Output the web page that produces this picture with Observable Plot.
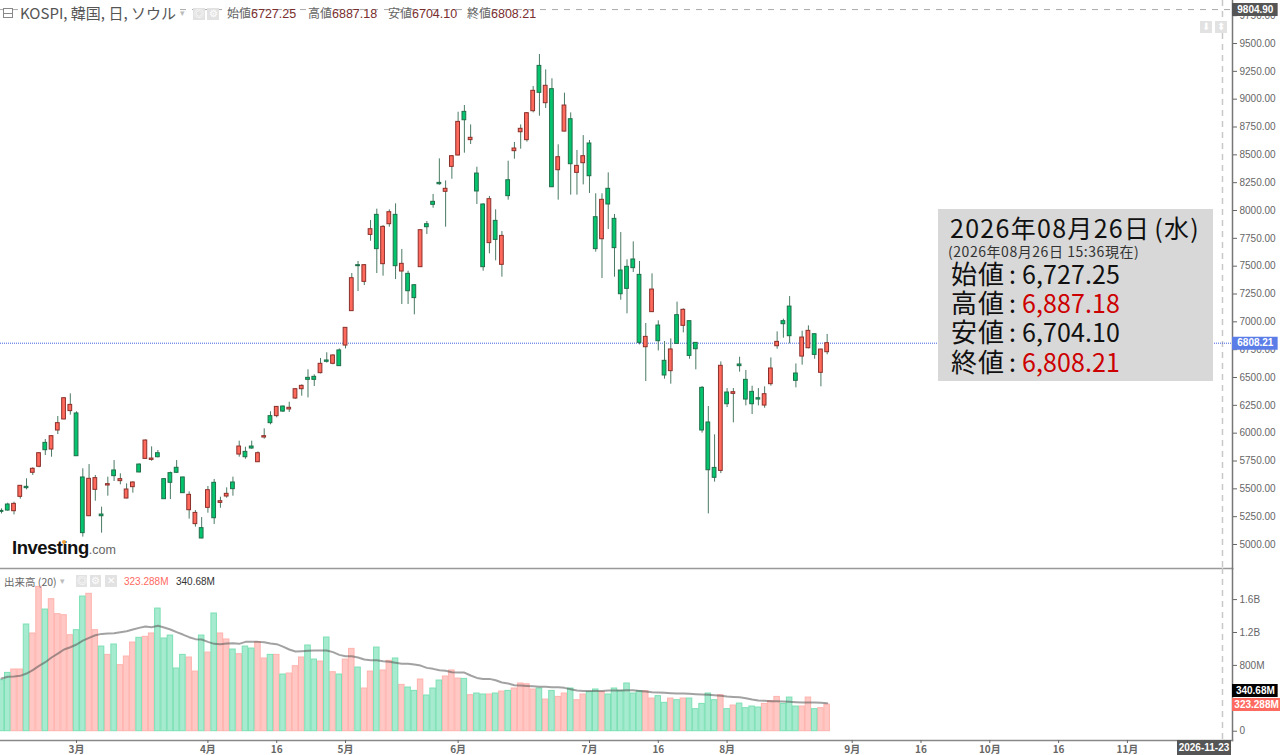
<!DOCTYPE html>
<html lang="ja">
<head>
<meta charset="utf-8">
<title>KOSPI</title>
<script src="https://cdn.jsdelivr.net/npm/d3@7"></script>
<script src="https://cdn.jsdelivr.net/npm/@observablehq/plot@0.6"></script>
<style>
html,body{margin:0;padding:0;background:#fff;overflow:hidden}
#page{position:relative;width:1280px;height:755px;overflow:hidden;font-family:"Liberation Sans",sans-serif}
#page svg{position:absolute;left:0;display:block;background:transparent}
.ov{position:absolute;white-space:nowrap}
.ic{position:absolute;background:#e2e2e2;color:#fff;text-align:center;font-size:10px;line-height:12px}
.hd{position:absolute;white-space:nowrap;font:12px "Noto Sans CJK JP",sans-serif;color:#666;top:5px;line-height:16px}
.hd b{font:12.5px "Liberation Sans",sans-serif;color:#7a2e2e}
#info{position:absolute;left:938px;top:209px;width:275px;height:172px;background:#d8d8d8;font-family:"Noto Sans CJK JP",sans-serif;color:#111}
#info div{position:absolute;white-space:nowrap}
.row{left:13px;font-size:25px;line-height:28px}
.row span{display:inline-block;width:58px;font-size:26px;letter-spacing:1px}
.row i{font-style:normal;letter-spacing:.1px;margin-left:6px}
.r{color:#cc0000}
</style>
</head>
<body>
<div id="page"></div>
<script>
const openVals=[5302,5359,5299,5428,5518,5644,5698,5913,5853,6024,6123,6198,6177,5602,5254,5491,5269,5530,5665,5569,5413,5515,5718,5769,5760,5820,5587,5641,5689,5602,5308,5183,5147,5329,5554,5374,5431,5557,5808,5832,5880,5739,5961,6153,6153,6239,6213,6311,6395,6497,6506,6539,6653,6623,6743,6787,7096,7509,7359,7781,7961,7518,7877,7961,7452,7431,7329,7491,7877,8078,8248,8168,8392,8494,8886,8632,8332,8054,7707,7907,7512,8272,8533,8703,8632,8892,9299,8964,9090,8362,8709,8820,8338,8425,8602,7940,7742,8195,7925,7461,7494,7560,7422,6772,7087,6967,6650,6557,7060,6964,7006,6811,6407,6096,5688,5661,6365,6353,6617,6479,6371,6314,6248,6440,6781,7006,7137,6536,6688,6763,6889,6542,6727.25];
const highVals=[5320,5371,5380,5527,5590,5689,5826,5943,5979,6150,6317,6353,6192,5680,5718,5620,5335,5605,5754,5635,5545,5563,5724,5940,5877,5844,5590,5650,5754,5605,5473,5305,5242,5521,5584,5425,5509,5605,5928,5874,5928,5832,6039,6192,6239,6245,6278,6398,6434,6569,6524,6671,6722,6703,6757,6946,7434,7542,7515,7910,8012,7865,8006,8060,7650,7455,7335,7826,7901,8144,8464,8266,8491,8883,8943,8769,8389,8060,8126,8006,7811,8443,8611,8769,8880,9114,9401,9263,9183,8590,9054,8877,8539,8673,8629,8150,8150,8338,7964,7802,7557,7718,7542,6985,7431,7009,6823,6847,7177,7117,7006,6811,6419,6239,5985,6640,6401,6401,6682,6563,6422,6401,6416,6676,6910,7024,7227,6622,6916,6964,6892,6754,6887.18];
const lowVals=[5275,5299,5266,5407,5491,5620,5689,5799,5784,5988,6120,6162,5793,5066,5251,5389,5102,5434,5566,5536,5410,5461,5644,5766,5748,5778,5404,5404,5638,5458,5228,5156,5051,5281,5180,5326,5416,5434,5784,5766,5856,5736,5946,6075,6138,6186,6186,6305,6332,6317,6419,6533,6629,6614,6599,6757,7093,7272,7326,7724,7434,7410,7850,7380,7156,7156,7063,7488,7784,8021,8227,7850,8281,8491,8515,8593,8054,7455,7611,7548,7401,8093,8461,8551,8614,8877,8847,8916,8206,8093,8706,8138,8138,8230,8153,7626,7389,7829,7401,7194,7072,7443,6793,6464,7084,6739,6485,6440,6796,6901,6664,6569,6000,5275,5560,5637,6230,6093,6548,6245,6167,6245,6224,6422,6754,6853,6802,6407,6611,6757,6664,6416,6704.10];
const closeVals=[5293,5305,5365,5527,5506,5680,5820,5847,5973,6090,6314,6254,5793,5102,5590,5596,5254,5542,5614,5587,5494,5557,5647,5934,5772,5784,5407,5554,5644,5461,5446,5284,5054,5488,5236,5389,5455,5497,5880,5784,5862,5820,5973,6090,6236,6194,6228,6395,6425,6479,6479,6623,6641,6698,6602,6946,7392,7500,7509,7832,7653,7853,7985,7500,7521,7275,7213,7823,7850,8051,8236,8195,8488,8796,8811,8653,8171,7491,8102,7736,7772,8129,8557,8734,8874,9075,9057,9120,8209,8479,8943,8416,8401,8488,8308,7653,8096,8054,7662,7248,7296,7482,6811,6865,7290,6826,6518,6752,6802,7108,6694,6754,6024,5667,5599,6605,6260,6368,6602,6302,6260,6302,6350,6581,6820,6979,6871,6470,6859,6919,6703,6751,6808.21];
const volumeM=[620,709,750,750,1297,1188,1755,1479,1605,1423,1410,1167,1228,1637,1670,1228,1029,928,1054,803,908,1078,1135,1147,1188,1491,1127,1163,762,928,896,725,1163,956,1431,1188,1115,993,936,1029,1005,1082,884,928,928,689,701,790,896,1042,871,847,1139,717,689,871,1001,774,519,725,1017,738,855,884,563,531,490,628,434,519,616,665,738,640,636,438,458,446,446,458,482,490,519,580,571,507,519,385,490,417,458,519,377,446,474,507,474,446,519,490,580,458,486,486,397,426,345,397,377,397,397,268,332,458,377,438,268,312,336,280,300,288,332,365,417,332,409,300,300,409,268,280,323.288];
const maM=[640,661,665,673,701,742,794,839,896,944,993,1021,1054,1102,1135,1167,1183,1188,1192,1204,1216,1236,1256,1273,1265,1281,1260,1236,1204,1175,1143,1119,1115,1086,1062,1058,1066,1070,1062,1086,1086,1086,1082,1066,1058,1029,993,969,973,977,981,981,981,961,928,912,912,896,871,863,863,851,843,831,819,819,811,798,770,758,742,734,717,713,713,677,648,636,636,620,592,580,559,555,551,547,539,539,535,535,527,511,494,490,490,490,490,494,494,494,498,498,490,482,474,470,466,462,458,458,454,450,446,442,438,430,422,417,413,401,385,373,369,365,365,361,357,353,349,349,349,347,340.68];
const priceTicks=[5000,5250,5500,5750,6000,6250,6500,6750,7000,7250,7500,7750,8000,8250,8500,8750,9000,9250,9500,9750];
const volTicks=[0,800,1200,1600];
const dateTickIdx=[12,33,44,55,73,94,105,116,136,147,158,169,180];
const dateTickLabels=["3月","4月","16","5月","6月","7月","16","8月","9月","16","10月","16","11月"];
const lastClose=6808.21, crossPrice=9804.90, crossIdx=195.2, lastVol=323.288, lastMa=340.68, maTagAt=495;
const xDomain=[-0.16,196.8], tagL=196.8, tagR=204.1;

const candles=openVals.map((o,i)=>({i,o,h:highVals[i],l:lowVals[i],c:closeVals[i],v:volumeM[i],ma:maM[i]}));
const upBars=candles.filter(d=>d.c>=d.o), downBars=candles.filter(d=>d.c<d.o);
const plotFont='"Liberation Sans",sans-serif';

const candleBody=(data,fill,stroke)=>Plot.rect(data,{x1:d=>d.i-0.3,x2:d=>d.i+0.3,y1:d=>d.o,y2:d=>d.c,fill,stroke,strokeWidth:1});
const tagMarks=(label,bg,labelV,right=tagR)=>[
  Plot.ruleY([labelV],{x1:tagL,x2:right,stroke:bg,strokeWidth:13}),
  Plot.text([labelV],{y:d=>d,x:(tagL+right)/2,text:()=>label,fill:"#fff",fontWeight:"bold",fontSize:10})
];

const pricePlot=Plot.plot({
  width:1280,height:568,marginLeft:0,marginRight:48,marginTop:0,marginBottom:0,
  style:{fontFamily:plotFont,fontSize:"10px",background:"transparent",overflow:"visible"},
  x:{domain:xDomain,axis:null},
  y:{domain:[4784.4,9886.4],axis:null},
  marks:[
    Plot.ruleY([crossPrice],{stroke:"#aaa",strokeWidth:1,strokeDasharray:"6,6"}),
    Plot.ruleX([crossIdx],{stroke:"#c8c8c8",strokeWidth:1.5,strokeDasharray:"6,5"}),
    Plot.ruleY([lastClose],{stroke:"#3f63e0",strokeWidth:1,strokeDasharray:"1,1"}),
    Plot.ruleX(candles,{x:"i",y1:"l",y2:"h",stroke:"#4b7a64",strokeWidth:1}),
    candleBody(upBars,"#ff6a5c","#8c2f2a"),
    candleBody(downBars,"#05c46e","#1f6f4a"),
    Plot.frame({anchor:"right",stroke:"#777",strokeWidth:1.5}),
    Plot.frame({anchor:"bottom",stroke:"#999",strokeWidth:1.5}),
    Plot.axisY({anchor:"right",label:null,ticks:priceTicks,tickSize:4,tickPadding:3,tickFormat:d3.format(".2f"),color:"#666",fontSize:10}),
    ...tagMarks("6808.21","#5b7de8",lastClose),
    ...tagMarks("9804.90","#555",crossPrice)
  ]
});
pricePlot.style.top="0";

const volPlot=Plot.plot({
  width:1280,height:187,marginLeft:0,marginRight:48,marginTop:0,marginBottom:15,
  style:{fontFamily:plotFont,fontSize:"10px",background:"transparent",overflow:"visible"},
  x:{domain:xDomain,axis:null},
  y:{domain:[-113,1978],axis:null},
  marks:[
    Plot.ruleX([crossIdx],{stroke:"#c8c8c8",strokeWidth:1.5,strokeDasharray:"6,5"}),
    Plot.rectY(upBars,{x1:d=>d.i-0.44,x2:d=>d.i+0.44,y1:0,y2:"v",fill:"#ffc8c4",stroke:"#ffb3ae",strokeWidth:1}),
    Plot.rectY(downBars,{x1:d=>d.i-0.44,x2:d=>d.i+0.44,y1:0,y2:"v",fill:"#a6ead0",stroke:"#7ce0b4",strokeWidth:1}),
    Plot.lineY(candles,{x:"i",y:"ma",stroke:"#555",strokeOpacity:0.55,strokeWidth:2}),
    Plot.frame({anchor:"right",stroke:"#777",strokeWidth:1.5}),
    Plot.frame({anchor:"bottom",stroke:"#888",strokeWidth:1.5}),
    Plot.axisY({anchor:"right",label:null,ticks:volTicks,tickSize:4,tickPadding:3,tickFormat:d=>d>=1000?(d/1000)+"B":d===0?"0":d+"M",color:"#666",fontSize:10}),
    Plot.axisX({anchor:"bottom",label:null,ticks:dateTickIdx,tickSize:3,tickPadding:2,tickFormat:d=>dateTickLabels[dateTickIdx.indexOf(d)],color:"#666",fontSize:10,fontWeight:"bold",fontFamily:'"Noto Sans CJK JP",sans-serif'}),
    ...tagMarks("340.68M","#000",maTagAt),
    ...tagMarks("323.288M","#ff6a60",lastVol,204.5)
  ]
});
volPlot.style.top="568px";

const page=document.getElementById("page");
page.append(pricePlot,volPlot);
page.insertAdjacentHTML("beforeend",`
<div class="ov" style="left:1177px;top:740px;width:54px;height:15px;background:#555;color:#fff;font-weight:bold;font-size:10px;line-height:15px;text-align:center">2026-11-23</div>
<div class="ov" style="left:3px;top:8px;width:10px;height:10px;border:1px solid #888;box-sizing:border-box;background:linear-gradient(#888,#888) center/100% 1px no-repeat #fff"></div>
<div class="ov" style="left:20px;top:3px;font:15px/20px 'Noto Sans CJK JP',sans-serif;color:#555;background:#fff;padding-right:2px">KOSPI, 韓国, 日, ソウル</div>
<div class="ov" style="left:180px;top:6px;font-size:9px;line-height:14px;color:#bbb">▾</div>
<div class="ic" style="left:193px;top:8px;width:12px;height:12px">◎</div>
<div class="ic" style="left:207px;top:8px;width:12px;height:12px">⚙</div>
<div class="hd" style="left:227px">始値<b>6727.25</b></div>
<div class="hd" style="left:308px">高値<b>6887.18</b></div>
<div class="hd" style="left:388px">安値<b>6704.10</b></div>
<div class="hd" style="left:467px">終値<b>6808.21</b></div>
<div class="ic" style="left:1200px;top:21px;width:12px;height:12px">⬇</div>
<div class="ic" style="left:1215px;top:21px;width:12px;height:12px">⬍</div>
<div class="ov" style="left:12px;top:536px;font:bold 18.5px/24px 'Liberation Sans',sans-serif;color:#111;letter-spacing:-.5px">Investing<span style="font-weight:normal;font-size:12.5px;color:#666;letter-spacing:0">.com</span></div>
<div class="ov" style="left:62px;top:540px;width:4px;height:4px;border-radius:2px;background:#f2a33a"></div>
<div class="ov" style="left:4px;top:574px;font:10.5px/15px 'Noto Sans CJK JP',sans-serif;color:#666">出来高 (20)</div>
<div class="ov" style="left:60px;top:574px;font-size:9px;line-height:14px;color:#bbb">▾</div>
<div class="ic" style="left:76px;top:575px;width:11px;height:12px">◎</div>
<div class="ic" style="left:90px;top:575px;width:11px;height:12px">⚙</div>
<div class="ic" style="left:105px;top:575px;width:12px;height:12px">✕</div>
<div class="ov" style="left:124px;top:575px;font-size:10px;line-height:13px;color:#ff6a60">323.288M</div>
<div class="ov" style="left:176px;top:575px;font-size:10px;line-height:13px;color:#333">340.68M</div>
<div id="info">
 <div style="left:12px;top:3px;font-size:25px;line-height:30px;letter-spacing:1.3px">2026年08月26日<span style="margin-left:4px">(水)</span></div>
 <div style="left:10px;top:34px;font-size:14px;line-height:16px;color:#333;letter-spacing:.55px">(2026年08月26日 15:36現在)</div>
 <div class="row" style="top:50px"><span>始値</span>:<i>6,727.25</i></div>
 <div class="row" style="top:79px"><span>高値</span>:<i class="r">6,887.18</i></div>
 <div class="row" style="top:108px"><span>安値</span>:<i>6,704.10</i></div>
 <div class="row" style="top:138px"><span>終値</span>:<i class="r">6,808.21</i></div>
</div>`);
</script>
</body>
</html>
